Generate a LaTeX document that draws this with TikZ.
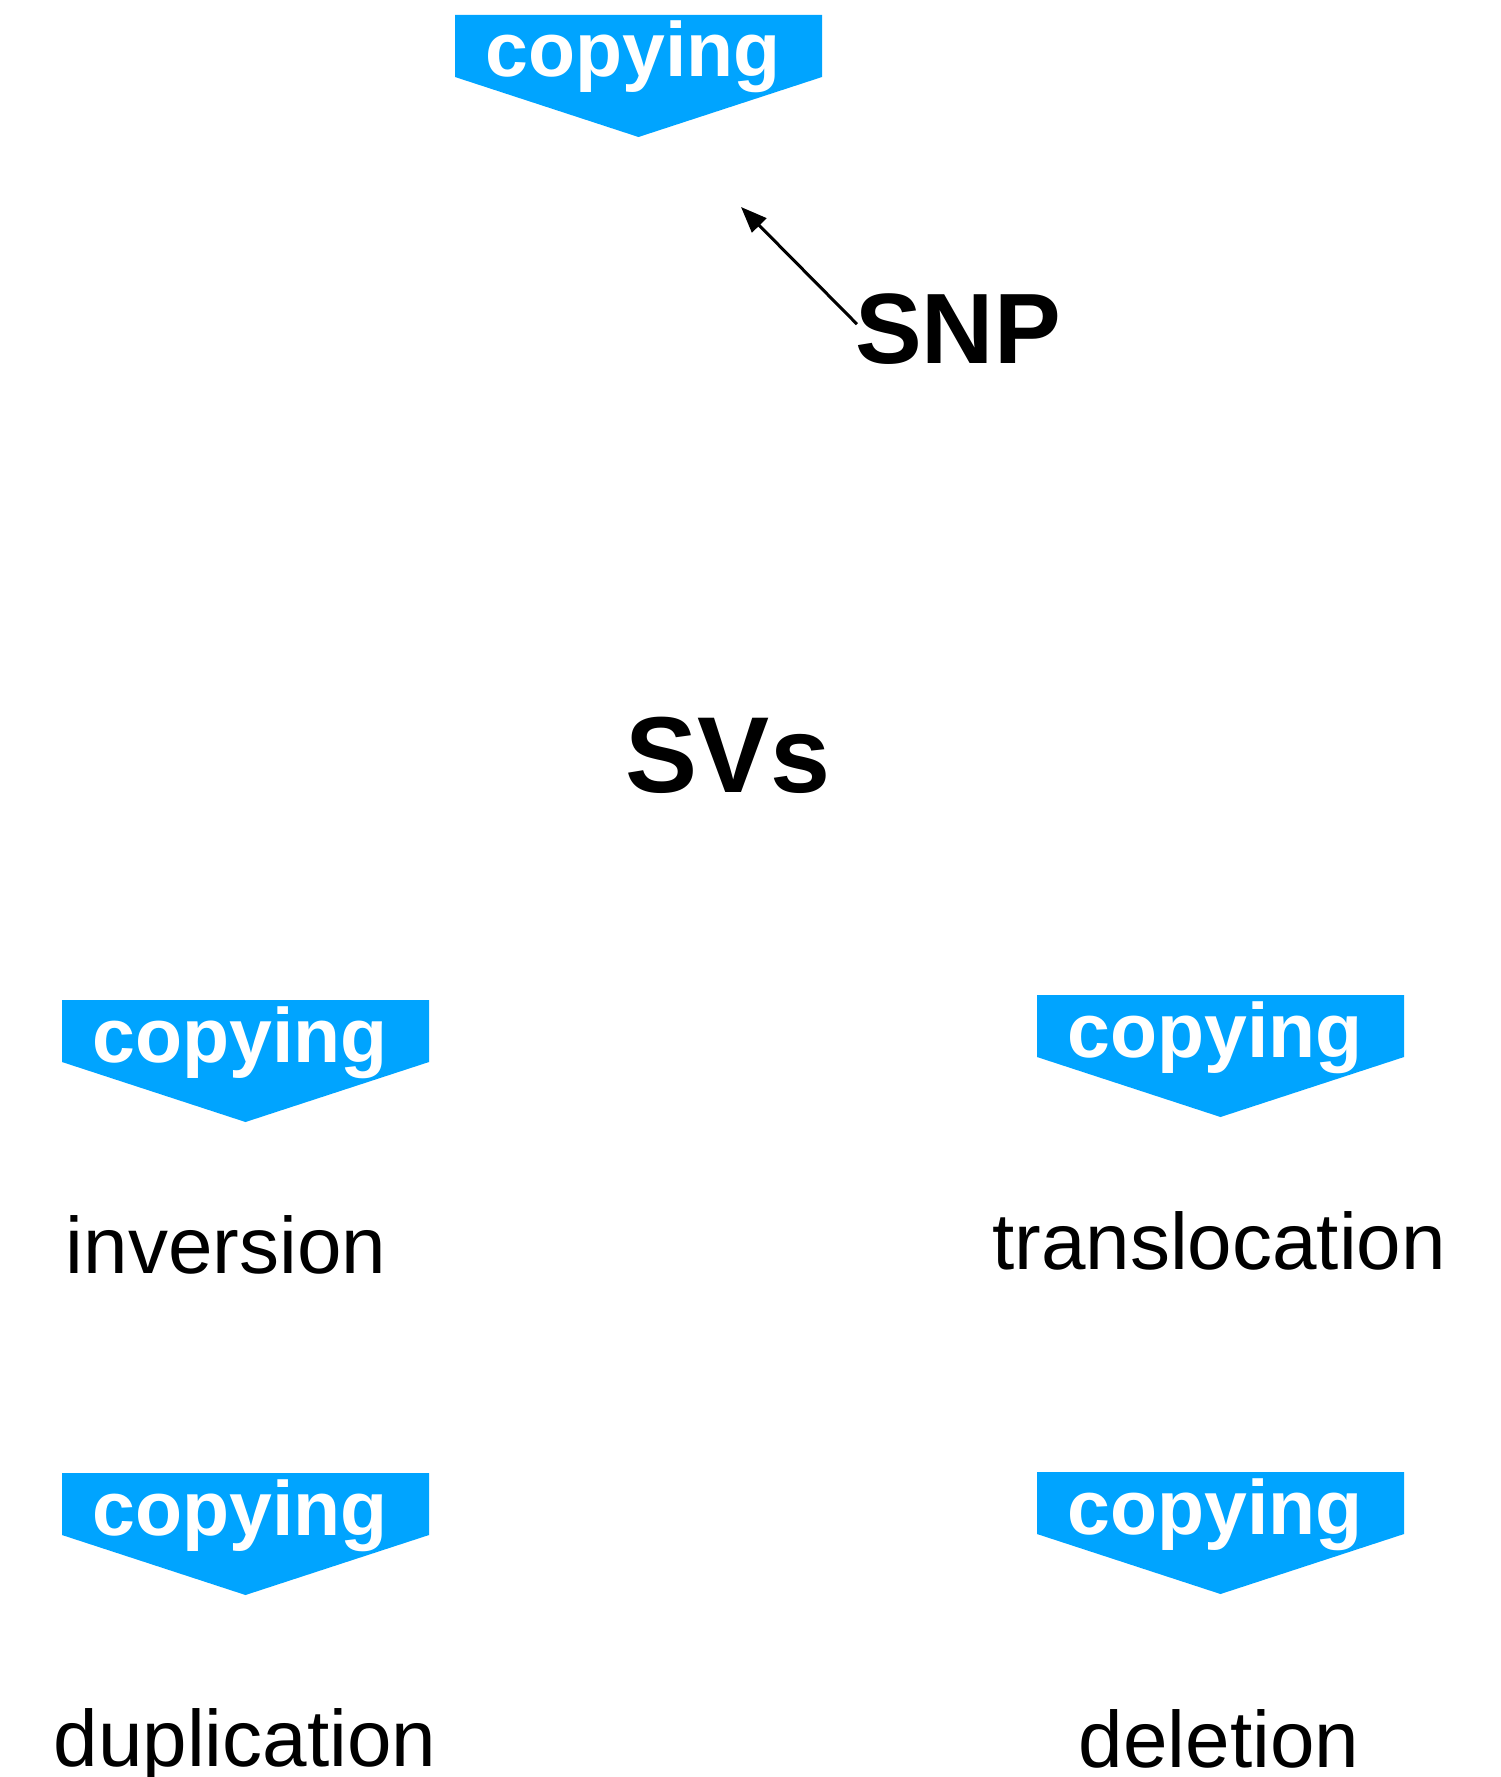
\documentclass[tikz,border=0pt]{standalone}
\usepackage{fontspec}
\setmainfont{Liberation Sans}
\usetikzlibrary{arrows.meta}
\definecolor{bannerblue}{RGB}{0,164,255}
\tikzset{
  bannertext/.style={anchor=base, inner sep=0pt, text=white, font=\fontsize{77}{80}\selectfont\bfseries},
  bannerfill/.style={fill=bannerblue, draw=none},
  termtext/.style={anchor=base, inner sep=0pt, font=\fontsize{80}{84}\selectfont},
  bigtext/.style={anchor=base, inner sep=0pt, font=\fontsize{#1}{#1}\selectfont\bfseries},
  pointer/.style={line width=3pt, -{Triangle[length=26pt,width=20pt]}}
}
% #1 name, #2 left x, #3 top y
\newcommand\cpybanner[3]{%
  \fill[bannerfill] (#2,#3) -- ++(367,0) -- ++(0,62) -- ++(-183.5,60) -- ++(-183.5,-60) -- cycle;
  \node[bannertext] (#1) at ({#2+178},{#3+62}) {copying};
}
\begin{document}
\begin{tikzpicture}[x=1pt,y=-1pt]
  \useasboundingbox[fill=white] (0,0) rectangle (1501,1777);
  \cpybanner{b0}{455}{15}
  \cpybanner{b1}{62}{1000}
  \cpybanner{b2}{1037}{995}
  \cpybanner{b3}{62}{1473}
  \cpybanner{b4}{1037}{1472}

  \node[bigtext=100] (snp) at (958,363) {SNP};
  \node[bigtext=108] (svs) at (728,792) {SVs};

  \node[termtext] (inv) at (226,1273) {inversion};
  \node[termtext] (trans) at (1219,1269) {translocation};
  \node[termtext] (dup) at (245,1766) {duplication};
  \node[termtext] (del) at (1219,1767) {deletion};

  \coordinate (tip) at (741,207);
  \draw[pointer] ([xshift=2pt,yshift=40pt]snp.south west) -- (tip);
\end{tikzpicture}
\end{document}
